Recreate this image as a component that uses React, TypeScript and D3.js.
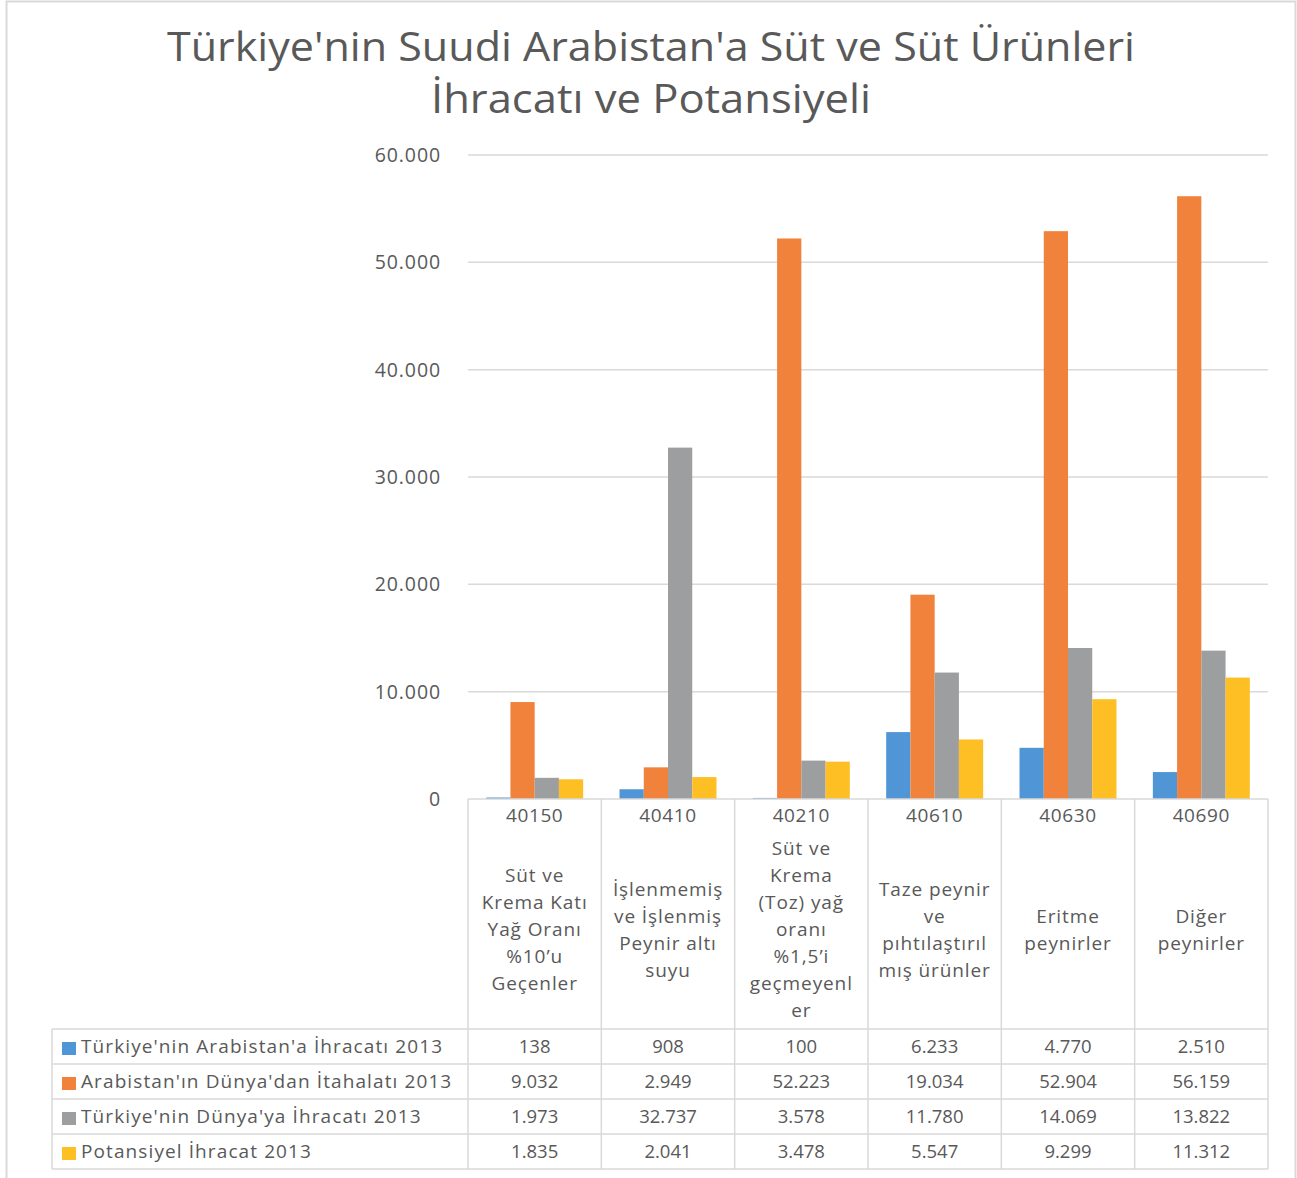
import React from 'react'
import * as d3 from 'd3'

const codes = ['40150', '40410', '40210', '40610', '40630', '40690']
const descriptions = [
  ['Süt ve', 'Krema Katı', 'Yağ Oranı', '%10’u', 'Geçenler'],
  ['İşlenmemiş', 've İşlenmiş', 'Peynir altı', 'suyu'],
  ['Süt ve', 'Krema', '(Toz) yağ', 'oranı', '%1,5’i', 'geçmeyenl', 'er'],
  ['Taze peynir', 've', 'pıhtılaştırıl', 'mış ürünler'],
  ['Eritme', 'peynirler'],
  ['Diğer', 'peynirler'],
]
const seriesNames = [
  "Türkiye'nin Arabistan'a İhracatı 2013",
  "Arabistan'ın Dünya'dan İtahalatı 2013",
  "Türkiye'nin Dünya'ya İhracatı 2013",
  'Potansiyel İhracat 2013',
]
const turkeyToArabia = [138, 908, 100, 6233, 4770, 2510]
const arabiaImports = [9032, 2949, 52223, 19034, 52904, 56159]
const turkeyToWorld = [1973, 32737, 3578, 11780, 14069, 13822]
const potential = [1835, 2041, 3478, 5547, 9299, 11312]
const yTicks = [0, 10000, 20000, 30000, 40000, 50000, 60000]
const colors = ['#5096d6', '#f0823b', '#9c9e9f', '#fdbf24']

const trLocale = d3.formatLocale({decimal: ',', thousands: '.', grouping: [3], currency: ['', '']})
const fmt = trLocale.format(',d')

const App = () => {
  const width = 1297
  const height = 1178
  const plotLeft = 468
  const plotRight = 1268
  const textColor = '#595959'
  const lineColor = '#d9d9d9'
  const font = "'Open Sans', sans-serif"

  const allSeries = [turkeyToArabia, arabiaImports, turkeyToWorld, potential]

  const y = d3.scaleLinear().domain([0, 60000]).range([799, 155])
  const x = d3.scaleBand().domain(codes).range([plotLeft, plotRight]).padding(0)
  const xSub = d3.scaleBand()
    .domain(seriesNames)
    .range([0, x.bandwidth()])
    .paddingInner(0)
    .paddingOuter(0.75)

  const tableTop = y(0)
  const headerBottom = 1029
  const rowH = 35
  const legendLeft = 52
  const tableBottom = headerBottom + rowH * seriesNames.length
  const descCenter = 930
  const lineH = 27

  return (
    <svg width={width} height={height} style={{position: 'absolute', left: 0, top: 0, background: '#fff'}}>
      <rect x={6.5} y={1.5} width={1289} height={1190} fill="#fff" stroke={lineColor} strokeWidth={2}/>

      <text x={651} y={61} textAnchor="middle" fontFamily={font} fontSize={40} fill={textColor}
        textLength={968} lengthAdjust="spacingAndGlyphs">
        Türkiye'nin Suudi Arabistan'a Süt ve Süt Ürünleri
      </text>
      <text x={651} y={113} textAnchor="middle" fontFamily={font} fontSize={40} fill={textColor}
        textLength={440} lengthAdjust="spacingAndGlyphs">
        İhracatı ve Potansiyeli
      </text>

      {yTicks.map((t) => (
        <g key={t}>
          {t > 0 && (
            <line x1={plotLeft} x2={plotRight} y1={y(t)} y2={y(t)} stroke={lineColor} strokeWidth={1.5}/>
          )}
          <text x={441} y={y(t) + 7} textAnchor="end" fontFamily={font} fontSize={19.5}
            letterSpacing={0.9} fill={textColor}>
            {t === 0 ? '0' : fmt(t)}
          </text>
        </g>
      ))}

      {codes.map((c, i) => (
        <g key={c} transform={`translate(${x(c)},0)`}>
          {allSeries.map((s, j) => (
            <rect
              key={j}
              x={xSub(seriesNames[j])}
              y={y(s[i])}
              width={xSub.bandwidth()}
              height={y(0) - y(s[i])}
              fill={colors[j]}
            />
          ))}
        </g>
      ))}

      {/* data table */}
      <g stroke={lineColor} strokeWidth={1.5}>
        <line x1={plotLeft} x2={plotRight} y1={tableTop} y2={tableTop}/>
        {[0, 1, 2, 3, 4].map((r) => (
          <line key={r} x1={legendLeft} x2={plotRight} y1={headerBottom + r * rowH} y2={headerBottom + r * rowH}/>
        ))}
        <line x1={legendLeft} x2={legendLeft} y1={headerBottom} y2={tableBottom}/>
        {codes.map((c) => (
          <line key={c} x1={x(c)} x2={x(c)} y1={tableTop} y2={tableBottom}/>
        ))}
        <line x1={plotRight} x2={plotRight} y1={tableTop} y2={tableBottom}/>
      </g>

      {codes.map((c, i) => {
        const cx = x(c) + x.bandwidth() / 2
        const lines = descriptions[i]
        const start = descCenter - ((lines.length - 1) / 2) * lineH
        return (
          <g key={c} fontFamily={font} fill={textColor} textAnchor="middle">
            <text x={cx} y={822} fontSize={19} letterSpacing={0.6}>{c}</text>
            {lines.map((l, k) => (
              <text key={k} x={cx} y={start + k * lineH + 6} fontSize={19} letterSpacing={0.9}>{l}</text>
            ))}
            {allSeries.map((s, j) => (
              <text key={j} x={cx} y={headerBottom + j * rowH + rowH / 2 + 6} fontSize={18.5}>{fmt(s[i])}</text>
            ))}
          </g>
        )
      })}

      {seriesNames.map((n, j) => (
        <g key={n}>
          <rect x={62} y={headerBottom + j * rowH + 13} width={14} height={13} fill={colors[j]}/>
          <text x={81} y={headerBottom + j * rowH + rowH / 2 + 6} fontFamily={font} fontSize={19}
            letterSpacing={1.1} fill={textColor}>
            {n}
          </text>
        </g>
      ))}
    </svg>
  )
}

export default App
